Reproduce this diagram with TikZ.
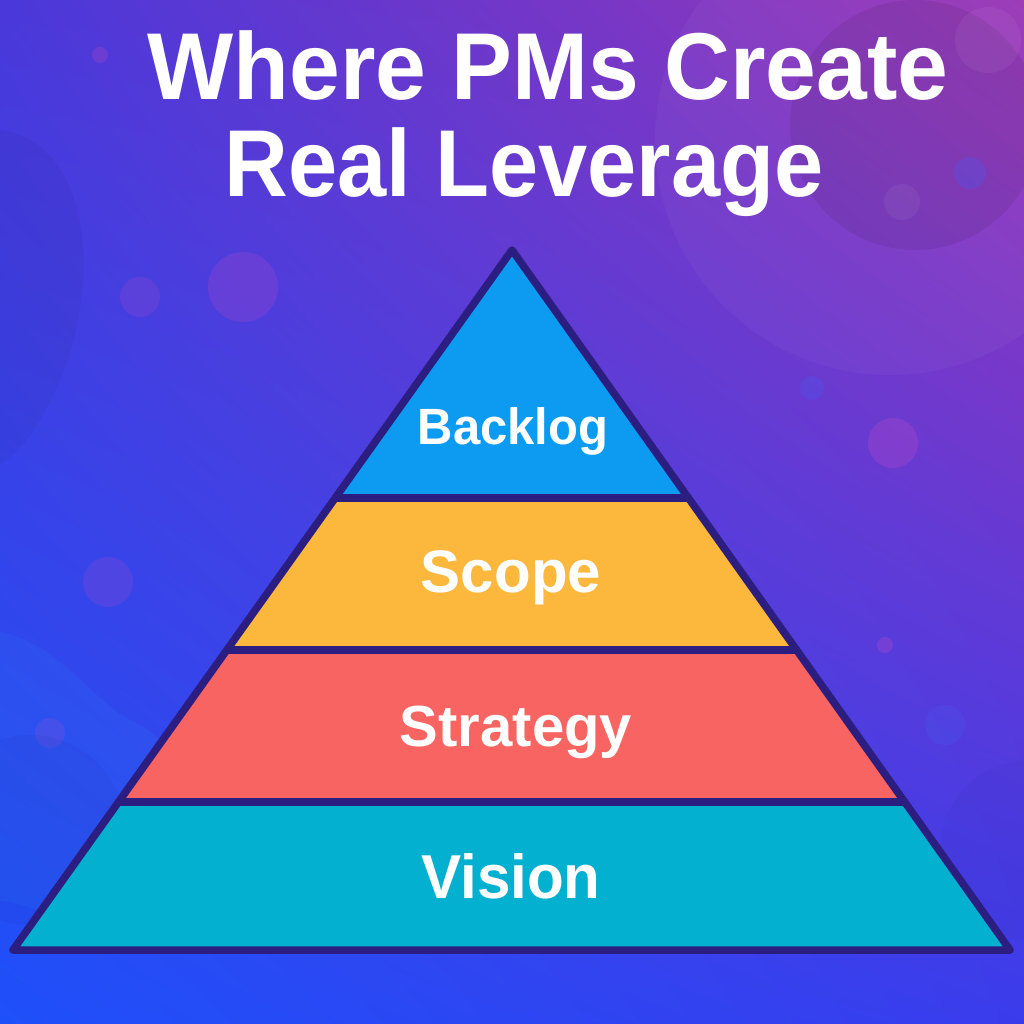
\documentclass[tikz,border=0pt]{standalone}
\usepackage{fontspec}
\setmainfont{Liberation Sans}
\usetikzlibrary{calc,shadings}
\definecolor{bgUL}{HTML}{4A38DA}
\definecolor{bgUR}{HTML}{9A36B6}
\definecolor{bgLL}{HTML}{1E50FA}
\definecolor{bgLR}{HTML}{3A3CEC}
\definecolor{cBacklog}{HTML}{0C9BF0}
\definecolor{cScope}{HTML}{FBB83D}
\definecolor{cStrategy}{HTML}{F76461}
\definecolor{cVision}{HTML}{03B0D0}
\definecolor{cOutline}{HTML}{2B1E80}
\definecolor{cPink}{HTML}{C04AC8}
\definecolor{cBlue}{HTML}{4A5AF0}
\newcommand{\mylbl}[3]{\scalebox{#2}[1]{\fontsize{#1}{#1}\selectfont\bfseries #3}}
\tikzset{
  layerlabel/.style={text=white, inner sep=0pt, anchor=base},
  titletext/.style={text=white, inner sep=0pt, anchor=base},
  layerfill/.style={draw=none},
  outline/.style={draw=cOutline, line width=7.5pt, line join=round, line cap=round},
  deco/.style={draw=none}
}
\begin{document}
\begin{tikzpicture}[x=1pt,y=-1pt]
\useasboundingbox (0,0) rectangle (1024,1024);
% background
\shade[upper left=bgUL, upper right=bgUR, lower left=bgLL, lower right=bgLR] (0,0) rectangle (1024,1024);
% decorative shapes
\begin{scope}
\clip (0,0) rectangle (1024,1024);
\fill[deco, white, fill opacity=0.035] (890,140) circle (235);
\fill[deco, black!60!bgUR, fill opacity=0.12] (915,125) circle (125);
\fill[deco, white, fill opacity=0.05] (988,40) circle (33);
\fill[deco, cBlue, fill opacity=0.3] (970,173) circle (16);
\fill[deco, white, fill opacity=0.05] (902,202) circle (18);
\fill[deco, cBlue, fill opacity=0.3] (812,388) circle (12);
\fill[deco, cPink, fill opacity=0.22] (243,287) circle (35);
\fill[deco, cPink, fill opacity=0.18] (140,297) circle (20);
\fill[deco, cPink, fill opacity=0.18] (108,582) circle (25);
\fill[deco, cPink, fill opacity=0.28] (893,443) circle (25);
\fill[deco, cBlue, fill opacity=0.25] (945,725) circle (20);
\fill[deco, cPink, fill opacity=0.18] (50,733) circle (15);
\fill[deco, cPink, fill opacity=0.28] (885,645) circle (8);
\fill[deco, cPink, fill opacity=0.25] (100,55) circle (8);
\fill[deco, black!50!bgUL, fill opacity=0.07] (-20,130) .. controls (80,120) and (110,260) .. (60,380) .. controls (30,450) and (0,470) .. (-20,470) -- cycle;
\fill[deco, cBlue!60!cyan, fill opacity=0.1] (-10,630) .. controls (60,640) and (90,700) .. (130,720) .. controls (180,740) and (200,800) .. (160,880) .. controls (120,960) and (40,900) .. (-10,900) -- cycle;
\fill[deco, black!40!bgLR, fill opacity=0.07] (30,830) circle (95);
\fill[deco, black!40!bgLR, fill opacity=0.06] (1030,850) circle (90);
\end{scope}
% pyramid geometry
\coordinate (A) at (512,250);
\coordinate (BL) at (13,950);
\coordinate (BR) at (1010,950);
\coordinate (L1) at ($(A)!0.3543!(BL)$);
\coordinate (R1) at ($(A)!0.3543!(BR)$);
\coordinate (L2) at ($(A)!0.5714!(BL)$);
\coordinate (R2) at ($(A)!0.5714!(BR)$);
\coordinate (L3) at ($(A)!0.7886!(BL)$);
\coordinate (R3) at ($(A)!0.7886!(BR)$);
% layers
\fill[layerfill, cBacklog] (A) -- (R1) -- (L1) -- cycle;
\fill[layerfill, cScope] (L1) -- (R1) -- (R2) -- (L2) -- cycle;
\fill[layerfill, cStrategy] (L2) -- (R2) -- (R3) -- (L3) -- cycle;
\fill[layerfill, cVision] (L3) -- (R3) -- (BR) -- (BL) -- cycle;
% outlines
\draw[outline] (A) -- (BR) -- (BL) -- cycle;
\draw[outline] (L1) -- (R1);
\draw[outline] (L2) -- (R2);
\draw[outline] (L3) -- (R3);
% labels
\node[layerlabel] (backlog) at (513,444) {\mylbl{51}{0.96}{Backlog}};
\node[layerlabel] (scope) at (511,592) {\mylbl{60}{1.0}{Scope}};
\node[layerlabel] (strategy) at (516,746) {\mylbl{58}{1.0}{Strategy}};
\node[layerlabel] (vision) at (511,898) {\mylbl{62}{0.97}{Vision}};
% title
\node[titletext] (title1) at (548,100) {\mylbl{95}{0.96}{Where PMs Create}};
\node[titletext] (title2) at (524,197) {\mylbl{95}{0.93}{Real Leverage}};
\end{tikzpicture}
\end{document}
